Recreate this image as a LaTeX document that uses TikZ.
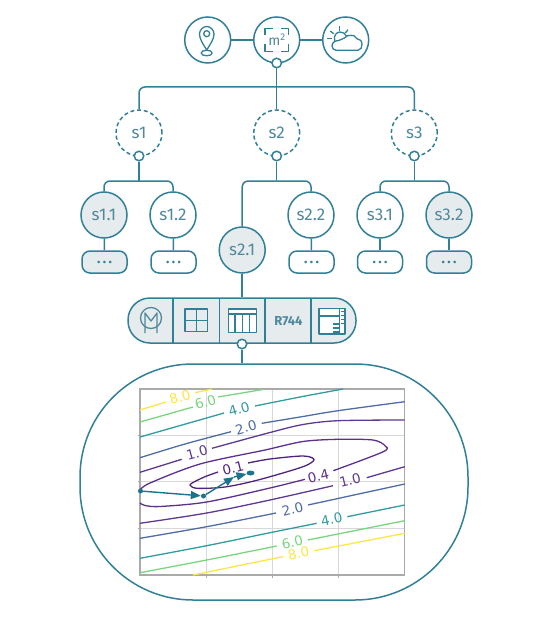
\documentclass[tikz,border=0pt]{standalone}
\usepackage{fontspec}
\usepackage{tikz}
\usetikzlibrary{arrows.meta,positioning,calc,shapes.geometric}
\setmainfont{Fira Sans}
\newfontfamily\plotfont{DejaVu Sans}
\definecolor{LineColor}{RGB}{50,128,152}
\definecolor{TextColor}{RGB}{80,136,156}
\definecolor{FillColor}{RGB}{230,236,238}
\definecolor{GridColor}{RGB}{216,216,216}
\definecolor{AxisColor}{RGB}{170,170,170}
\definecolor{ArrowColor}{RGB}{28,116,140}
\definecolor{LevelA}{RGB}{80,35,125}
\definecolor{LevelB}{RGB}{92,48,140}
\definecolor{LevelC}{RGB}{94,56,146}
\definecolor{LevelD}{RGB}{78,108,165}
\definecolor{LevelE}{RGB}{50,155,160}
\definecolor{LevelF}{RGB}{120,214,125}
\definecolor{LevelG}{RGB}{252,230,70}
\tikzset{
  conn/.style={draw=LineColor, line width=1.5pt},
  bus/.style={conn, rounded corners=6pt},
  topic/.style={circle, conn, fill=white, minimum size=46pt, inner sep=0pt, text=TextColor, font=\fontsize{17}{17}\selectfont},
  topicOn/.style={topic, fill=FillColor},
  topicOpen/.style={topic, dashed, dash pattern=on 4pt off 2.8pt},
  joint/.style={circle, conn, fill=white, minimum size=9.5pt, inner sep=0pt},
  pill/.style={rectangle, conn, fill=white, rounded corners=8pt, minimum width=45pt, minimum height=22pt, inner sep=0pt, text=LineColor, font=\fontsize{14}{14}\selectfont\bfseries},
  pillOn/.style={pill, fill=FillColor},
  icon/.style={draw=LineColor, line width=1.3pt, line join=round},
  contour/.style={line width=1.3pt, smooth},
  lab/.style={font=\plotfont\fontsize{13.5}{14}\selectfont, inner sep=0pt, rotate=#1},
  stepline/.style={draw=ArrowColor, line width=1.4pt, -{Triangle[length=10pt,width=8pt]}},
  stepdot/.style={circle, fill=ArrowColor, inner sep=0pt, minimum size=5pt},
}
\begin{document}
\begin{tikzpicture}[x=1pt,y=-1pt]
  \useasboundingbox (0,0) rectangle (547,623);

  % top row
  \node[topic] (loc) at (207.7,40) {};
  \node[topic] (area) at (276.7,40) {};
  \node[topic] (sky) at (345.7,40) {};
  \draw[conn] (loc) -- (area);
  \draw[conn] (area) -- (sky);

  % pin
  \draw[icon] (206.7,50) .. controls (203,44) and (199.5,39) .. (199.5,34) .. controls (199.5,30) and (203,26.5) .. (206.7,26.5) .. controls (210.4,26.5) and (214,30) .. (214,34) .. controls (214,39) and (210.5,44) .. (206.7,50) -- cycle;
  \draw[icon] (206.7,33.7) circle[radius=3];
  \draw[icon] (206.7,53) ellipse[x radius=5.5, y radius=2.8];

  % m2
  \node[text=TextColor, inner sep=0pt, font=\fontsize{14}{14}\selectfont] (areatxt) at (277,40) {m\textsuperscript{2}};
  \draw[icon] (265,35.5) -- (265,28.3) -- (272.5,28.3);
  \draw[icon] (281,28.3) -- (288.3,28.3) -- (288.3,35.5);
  \draw[icon] (288.3,44.5) -- (288.3,51.7) -- (281,51.7);
  \draw[icon] (272.5,51.7) -- (265,51.7) -- (265,44.5);

  % sun and cloud
  \draw[icon] (336,50.3) -- (358,50.3) .. controls (361,50.3) and (362,47) .. (362,44.3) .. controls (362,41) and (360,39) .. (357,38.7) .. controls (355.5,36) and (353,35) .. (351,35.3) .. controls (348,35.3) and (346,36) .. (344.5,38) .. controls (342,39) and (340,40) .. (338.7,40.5) .. controls (335,40.5) and (332,43) .. (332,45.5) .. controls (332,48) and (333.5,50.3) .. (336,50.3) -- cycle;
  \draw[icon] (334.8,41.5) .. controls (333,35) and (337,32) .. (340,32) .. controls (343,32) and (345.5,33.5) .. (346.5,36.3);
  \draw[icon] (327,38.7) -- (332,38.7);
  \draw[icon] (330.3,31) -- (333.7,33.7);
  \draw[icon] (339.3,26) -- (339.3,31);
  \draw[icon] (348,29.7) -- (345.3,33);

  % second level
  \node[topicOpen] (s1) at (139,133) {s1};
  \node[topicOpen] (s2) at (276.7,133) {s2};
  \node[topicOpen] (s3) at (414.3,133) {s3};
  \node[joint] (j0) at (276.7,63) {};
  \coordinate (hub0) at (276.7,87);
  \draw[bus] (s1.north) |- (hub0);
  \draw[bus] (s3.north) |- (hub0);
  \draw[conn] (j0) -- (s2);

  % third level
  \node[topicOn] (s11) at (104,215) {s1.1};
  \node[topic] (s12) at (173,215) {s1.2};
  \node[topicOn] (s21) at (242.2,250) {s2.1};
  \node[topic] (s22) at (311,215) {s2.2};
  \node[topic] (s31) at (380,215) {s3.1};
  \node[topicOn] (s32) at (449,215) {s3.2};
  \node[joint] (j1) at (139,156) {};
  \node[joint] (j2) at (276.7,156) {};
  \node[joint] (j3) at (414.3,156) {};
  \coordinate (hub1) at (139,181);
  \coordinate (hub2) at (276.7,181);
  \coordinate (hub3) at (414.3,181);
  \draw[conn] (j1) -- (hub1);
  \draw[conn] (j2) -- (hub2);
  \draw[conn] (j3) -- (hub3);
  \draw[bus] (s11.north) |- (hub1);
  \draw[bus] (s12.north) |- (hub1);
  \draw[bus] (s21.north) |- (hub2);
  \draw[bus] (s22.north) |- (hub2);
  \draw[bus] (s31.north) |- (hub3);
  \draw[bus] (s32.north) |- (hub3);

  % pills
  \node[pillOn] (p11) at (104.5,262) {.\,.\,.};
  \node[pill] (p12) at (173.5,262) {.\,.\,.};
  \node[pill] (p22) at (311.5,262) {.\,.\,.};
  \node[pill] (p31) at (380,262) {.\,.\,.};
  \node[pillOn] (p32) at (449,262) {.\,.\,.};
  \draw[conn] (s11) -- (p11);
  \draw[conn] (s12) -- (p12);
  \draw[conn] (s22) -- (p22);
  \draw[conn] (s31) -- (p31);
  \draw[conn] (s32) -- (p32);

  % toolbar
  \node[rectangle, conn, fill=FillColor, rounded corners=22pt, minimum width=228pt, minimum height=45pt, inner sep=0pt] (tools) at (242,320.5) {};
  \draw[conn] (s21) -- (s21 |- tools.north);
  \foreach \x in {173,219.5,265,311} {
    \draw[conn] (\x,298) -- (\x,343);
  }
  \draw[icon, draw=TextColor] (151,318) circle[radius=10.5];
  \draw[icon, draw=TextColor] (145,333) -- (145,313) -- (151,321) -- (157,313) -- (157,333);
  \draw[icon, line width=1.5pt] (185,309) rectangle (207.7,331.7);
  \draw[icon, line width=1.5pt] (196.3,309) -- (196.3,331.7);
  \draw[icon, line width=1.5pt] (185,320.3) -- (207.7,320.3);
  \draw[icon, line width=1.5pt, fill=white] (228.3,309) rectangle (256.7,332.7);
  \draw[icon, line width=1.5pt] (228.3,314) -- (256.7,314);
  \foreach \x in {235,242.3,249.3} {
    \draw[icon, line width=1.5pt] (\x,314) -- (\x,332.7);
  }
  \node[text=TextColor, inner sep=0pt, font=\fontsize{13}{13}\selectfont\bfseries] (r744) at (288.5,320.7) {R744};
  \draw[icon, line width=1.5pt, fill=white] (319,308.3) rectangle (345,334);
  \draw[icon] (319,316) -- (339.3,316);
  \draw[icon] (339.3,308.3) -- (339.3,334);
  \foreach \y in {324,328,332} {
    \draw[icon] (333,\y) -- (339.3,\y);
  }
  \foreach \y in {311,315,319,323} {
    \draw[icon, line width=.8pt] (341,\y) -- (345,\y);
  }

  % plot region
  \node[rectangle, conn, rounded corners=113pt, minimum width=388pt, minimum height=236pt, inner sep=0pt] (field) at (274,482) {};
  \node[joint] (j4) at (242,344) {};
  \draw[conn] (j4) -- (j4 |- field.north);

  \foreach \x in {206.7,272.7,338.6} {
    \draw[GridColor, line width=1pt] (\x,389) -- (\x,575);
    \draw[AxisColor, line width=.8pt] (\x,575) -- (\x,577.5);
  }
  \foreach \y in {435.7,481.7,528} {
    \draw[GridColor, line width=1pt] (140,\y) -- (404.7,\y);
    \draw[AxisColor, line width=.8pt] (140,\y) -- (137.5,\y);
  }
  \draw[AxisColor, line width=1.2pt] (140,389) rectangle (404.7,575);

  % contours
  \draw[LevelG, contour] plot coordinates {(140,410) (166,402)};
  \draw[LevelG, contour] plot coordinates {(195,392.7) (212,389)};
  \node[lab=17, text=LevelG] (c8a) at (180,397) {8.0};
  \draw[LevelF, contour] plot coordinates {(140,422) (193,407)};
  \draw[LevelF, contour] plot coordinates {(218,397) (263,389.5)};
  \node[lab=17, text=LevelF] (c6a) at (205.5,402) {6.0};
  \draw[LevelE, contour] plot coordinates {(140,437) (224,413)};
  \draw[LevelE, contour] plot coordinates {(255,406) (300,397) (343,389)};
  \node[lab=16, text=LevelE] (c4a) at (239,409) {4.0};
  \draw[LevelD, contour] plot coordinates {(140,457.7) (185,444) (231,431.7)};
  \draw[LevelD, contour] plot coordinates {(261.7,423.3) (300,417) (338,410.7) (404.7,401.7)};
  \node[lab=15, text=LevelD] (c2a) at (246,427.5) {2.0};
  \draw[LevelC, contour] plot coordinates {(140,472.3) (181.7,459.3)};
  \draw[LevelC, contour] plot coordinates {(212,448.3) (270,432.5) (303,424.5) (338,420.7) (404.7,420)};
  \node[lab=15, text=LevelC] (c1a) at (197,452.7) {1.0};
  \draw[LevelC, contour] plot coordinates {(140,523.3) (206.7,513) (270,500) (333,485.7)};
  \draw[LevelC, contour] plot coordinates {(366.7,477.7) (404.7,466.7)};
  \node[lab=14, text=LevelC] (c1b) at (350,480) {1.0};
  \draw[LevelD, contour] plot coordinates {(140,538.3) (206.7,526.7) (276,513)};
  \draw[LevelD, contour] plot coordinates {(308,505) (404.7,484)};
  \node[lab=14, text=LevelD] (c2b) at (292.5,509.3) {2.0};
  \draw[LevelE, contour] plot coordinates {(140,558.3) (206.7,545.7) (270,532.7) (316.7,523.3)};
  \draw[LevelE, contour] plot coordinates {(347.3,516.7) (404.7,505)};
  \node[lab=12, text=LevelE] (c4b) at (331.7,519.3) {4.0};
  \draw[LevelF, contour] plot coordinates {(140,572.7) (206.7,560) (276.7,546)};
  \draw[LevelF, contour] plot coordinates {(307.7,540) (404.7,520.7)};
  \node[lab=12, text=LevelF] (c6b) at (292.3,542) {6.0};
  \draw[LevelG, contour] plot coordinates {(193,575) (270,559.3) (283.3,556.7)};
  \draw[LevelG, contour] plot coordinates {(314.3,550.7) (404.7,533.3)};
  \node[lab=12, text=LevelG] (c8b) at (298.5,553) {8.0};
  % 0.4
  \draw[LevelB, contour] plot coordinates {(140,490) (150,483) (200,464) (265,450) (303,441.5) (338,439.3) (373,440) (385,445.7) (383.3,451.7) (333.3,470.7)};
  \draw[LevelB, contour] plot coordinates {(305,479.3) (270,488) (206.7,502) (160,506.5) (145,505.5) (140,503)};
  \node[lab=14, text=LevelB] (c04) at (318.3,476) {0.4};
  % 0.1
  \draw[LevelA, contour] plot coordinates {(218,472) (205,476.7) (194,482) (190,485) (197,488.3) (225,487) (258,480) (303,466.7) (314,459.5) (303,456) (270,459) (248,463)};
  \node[lab=14, text=LevelA] (c01) at (233,468) {0.1};

  % steps
  \node[stepdot] (p0) at (140.5,491) {};
  \node[stepdot] (p1) at (203.5,496) {};
  \coordinate (p2) at (234,477);
  \node[stepdot, ellipse, minimum width=8pt, minimum height=5pt] (p3) at (250.5,473) {};
  \draw[stepline] (p0) -- (p1);
  \draw[stepline] (p1) -- (p2);
  \draw[stepline] (p2) -- (p3);
\end{tikzpicture}
\end{document}
